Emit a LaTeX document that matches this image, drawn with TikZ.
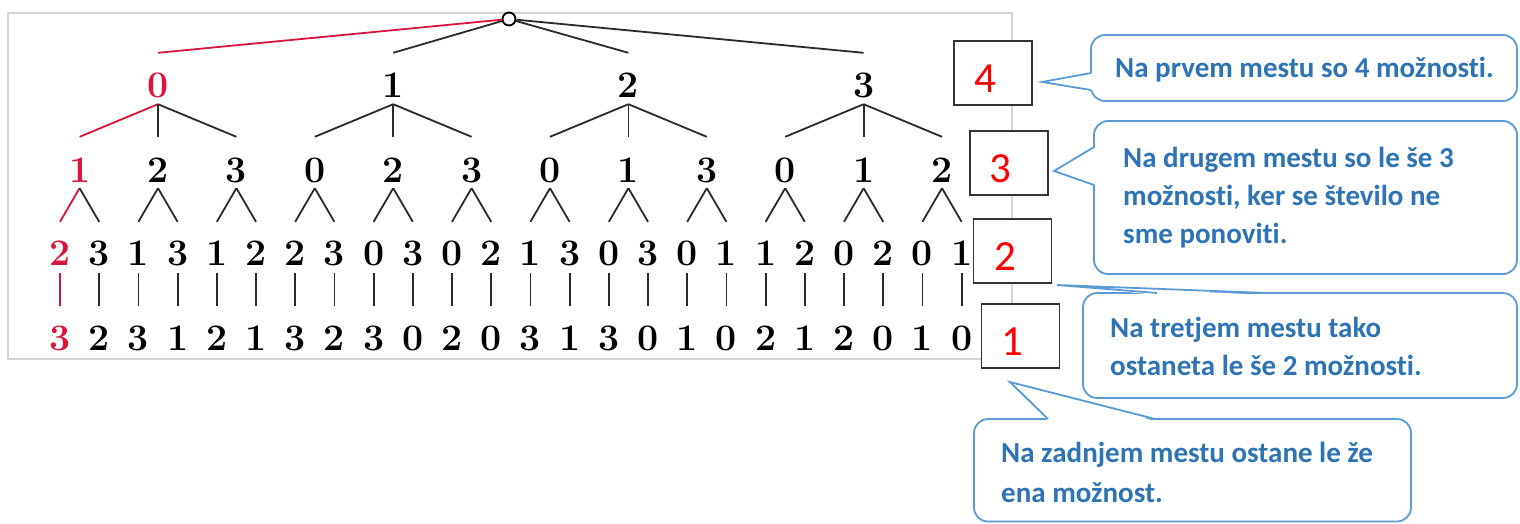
\documentclass[tikz,border=0pt]{standalone}
\usepackage{fontspec}
\newfontfamily\callfont[Ligatures=NoCommon]{Carlito}
\usetikzlibrary{calc}
\definecolor{tred}{RGB}{220,20,60}
\definecolor{tline}{HTML}{2A2A2A}
\definecolor{cblue}{HTML}{5B9BD5}
\definecolor{ctext}{HTML}{2E74B5}
\definecolor{framecol}{HTML}{D4D4D4}
\definecolor{boxgray}{HTML}{333333}
\begin{document}
\begin{tikzpicture}[x=1pt,y=-1pt,
  dig/.style={inner sep=0pt, text height=24pt, text depth=0pt, anchor=base,
              font=\fontsize{37.5}{40}\selectfont\bfseries},
  edge/.style={line width=1.8pt},
  numbox/.style={draw=boxgray, fill=white, line width=1.2pt, minimum width=78pt, minimum height=64pt, inner sep=0pt},
  numtxt/.style={anchor=base, inner sep=0pt, text=red, font=\callfont\fontsize{43}{47}\selectfont},
  callbox/.style={draw=cblue, fill=white, line width=1.8pt, rounded corners=14pt},
  callline/.style={draw=cblue, line width=1.8pt, line join=miter},
  calltxt/.style={anchor=base west, inner sep=0pt, text=ctext, font=\callfont\bfseries\fontsize{29}{33}\selectfont}
]
\useasboundingbox (0,0) rectangle (1520,523);
\fill[white] (0,0) rectangle (1520,523);

% frame
\draw[framecol, line width=1.5pt] (8,13) rectangle (1012,359);

% root
\node[draw=black, circle, line width=1.9pt, minimum size=13pt, inner sep=0pt] (root) at (509,19) {};

% level 1
\foreach \g in {0,1,2,3}{
  \ifnum\g=0 \def\col{tred}\else\def\col{black}\fi
  \node[dig, text=\col] (L1-\g) at ({79.6+78.4*(3*\g+1)},97) {\g};
  \ifnum\g=0 \def\lcol{tred}\else\def\lcol{tline}\fi
  \draw[edge, draw=\lcol] (root) -- ([yshift=20pt]L1-\g.north);
}

% level 2
\foreach \d [count=\m from 0] in {1,2,3,0,2,3,0,1,3,0,1,2}{
  \pgfmathtruncatemacro{\p}{floor(\m/3)}
  \ifnum\m=0 \def\col{tred}\def\lcol{tred}\else\def\col{black}\def\lcol{tline}\fi
  \node[dig, text=\col] (L2-\m) at ({79.6+78.4*\m},182) {\d};
  \draw[edge, draw=\lcol] ([yshift=-7pt]L1-\p.south) -- ([yshift=21pt]L2-\m.north);
}

% level 3
\foreach \d [count=\i from 0] in {2,3,1,3,1,2,2,3,0,3,0,2,1,3,0,3,0,1,1,2,0,2,0,1}{
  \pgfmathtruncatemacro{\p}{floor(\i/2)}
  \ifnum\i=0 \def\col{tred}\def\lcol{tred}\else\def\col{black}\def\lcol{tline}\fi
  \node[dig, text=\col] (L3-\i) at ({60+39.2*\i},265) {\d};
  \draw[edge, draw=\lcol] ([yshift=-6pt]L2-\p.south) -- ([yshift=19pt]L3-\i.north);
}

% level 4
\foreach \d [count=\i from 0] in {3,2,3,1,2,1,3,2,3,0,2,0,3,1,3,0,1,0,2,1,2,0,1,0}{
  \ifnum\i=0 \def\col{tred}\def\lcol{tred}\else\def\col{black}\def\lcol{tline}\fi
  \node[dig, text=\col] (L4-\i) at ({60+39.2*\i},350) {\d};
  \draw[edge, draw=\lcol] ([yshift=-8pt]L3-\i.south) -- ([yshift=20pt]L4-\i.north);
}

% number boxes
\node[numbox] (b4) at (993,73) {};
\node[numtxt] (t4) at (985,92) {4};
\node[numbox] (b3) at (1009,163) {};
\node[numtxt] (t3) at (1000,182) {3};
\node[numbox] (b2) at (1012.5,251) {};
\node[numtxt] (t2) at (1005,270) {2};
\node[numbox] (b1) at (1020.5,336) {};
\node[numtxt] (t1) at (1012,355) {1};

% callout 1
\draw[callbox] (1091,35) rectangle (1517,101);
\fill[white] (1093,73) -- (1042,82) -- (1093,90) -- cycle;
\draw[callline] (1091,73) -- (1042,82) -- (1091,90);
\node[calltxt] (c1a) at (1115,77) {Na prvem mestu so 4 možnosti.};

% callout 2
\draw[callbox] (1094,121) rectangle (1517,274);
\fill[white] (1096,147) -- (1054,171) -- (1096,185) -- cycle;
\draw[callline] (1094,147) -- (1054,171) -- (1094,185);
\node[calltxt] (c2a) at (1123,167) {Na drugem mestu so le še 3};
\node[calltxt] (c2b) at (1123,205) {možnosti, ker se število ne};
\node[calltxt] (c2c) at (1123,243) {sme ponoviti.};

% callout 3
\draw[callbox] (1083,293) rectangle (1517,398);
\fill[white] (1157,295) -- (1057,285) -- (1267,295) -- cycle;
\draw[callline] (1157,293) -- (1057,285) -- (1267,293);
\node[calltxt] (c3a) at (1110,337) {Na tretjem mestu tako};
\node[calltxt] (c3b) at (1110,375) {ostaneta le še 2 možnosti.};

% callout 4
\draw[callbox] (974,419) rectangle (1411,521.5);
\fill[white] (1048,421) -- (1010,382) -- (1155,421) -- cycle;
\draw[callline] (1048,419) -- (1010,382) -- (1155,419);
\node[calltxt] (c4a) at (1001,462) {Na zadnjem mestu ostane le že};
\node[calltxt] (c4b) at (1001,502) {ena možnost.};
\end{tikzpicture}
\end{document}
